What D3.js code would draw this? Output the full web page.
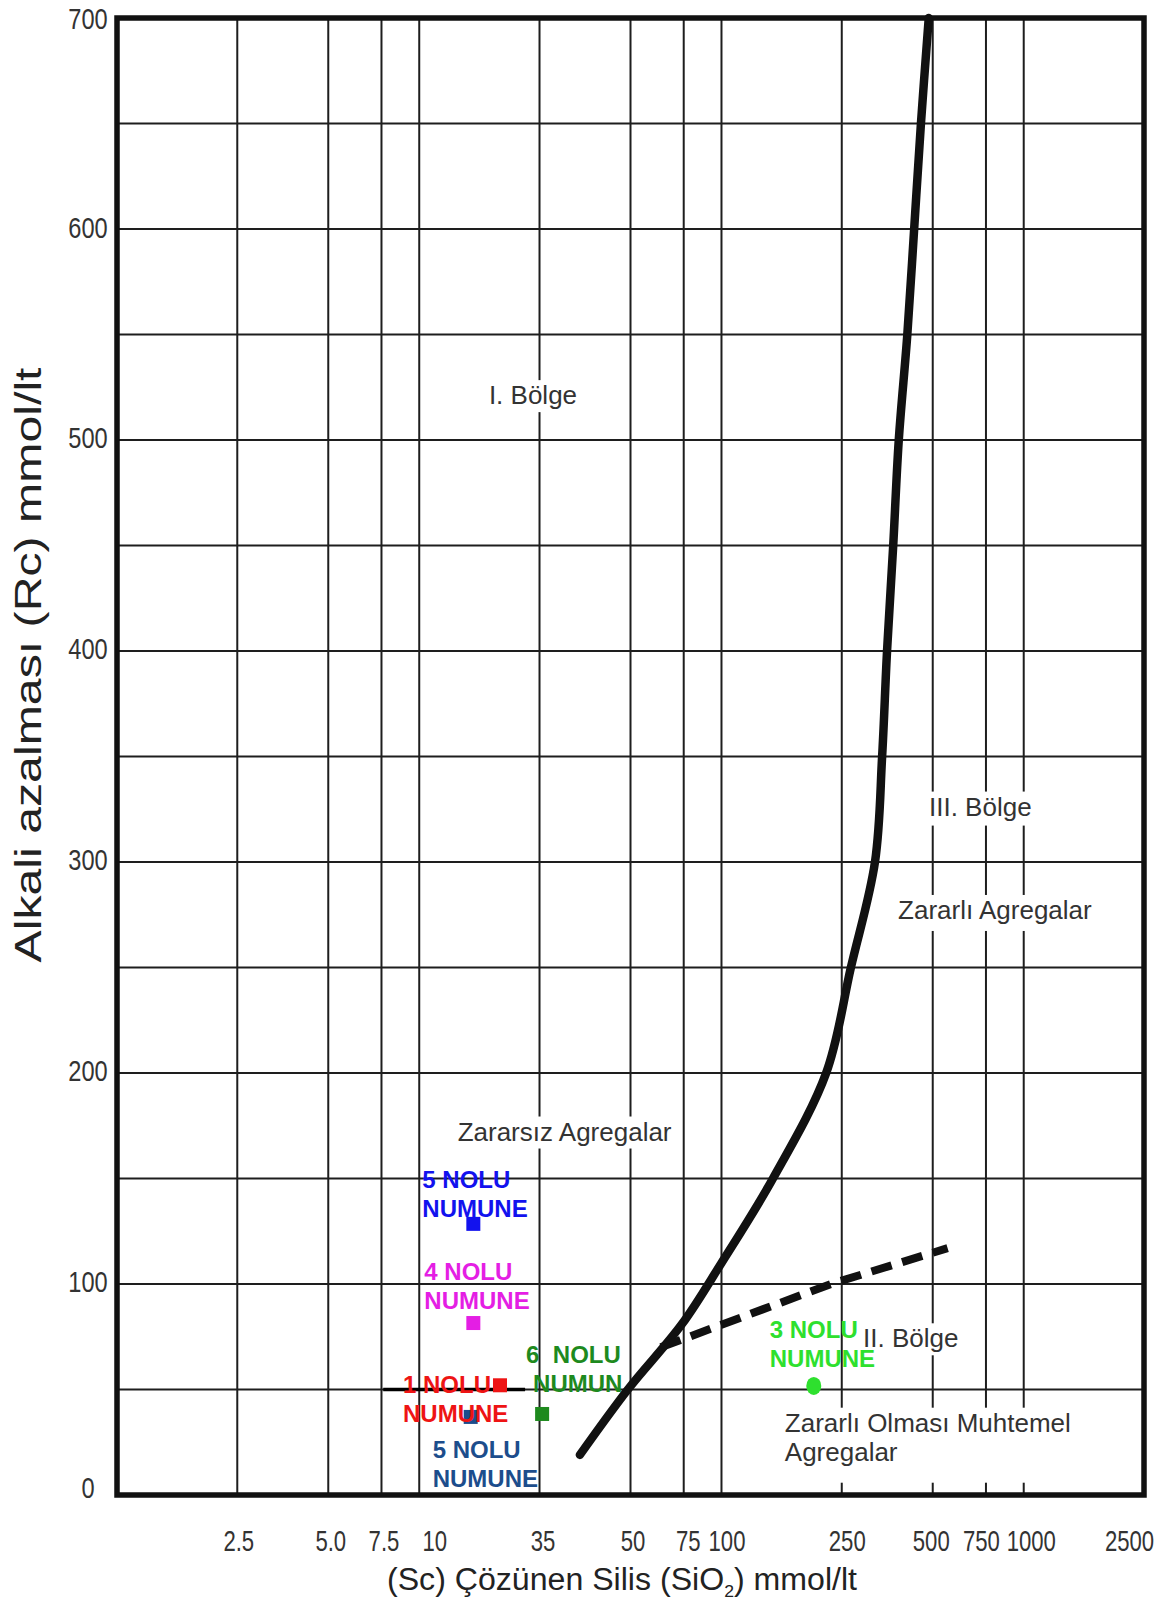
<!DOCTYPE html>
<html>
<head>
<meta charset="utf-8">
<script src="https://cdn.jsdelivr.net/npm/d3@7"></script>
<style>
  html, body { margin: 0; padding: 0; background: #fff; }
  svg { display: block; font-family: "Liberation Sans", Arial, sans-serif; }
</style>
</head>
<body>
<div id="chart"></div>
<script>
// axis ticks (the "35" label sits on the 25 line in the original drawing)
const xTickValues = [2.5, 5, 7.5, 10, 25, 50, 75, 100, 250, 500, 750, 1000, 2500];
const xTickLabels = ['2.5', '5.0', '7.5', '10', '35', '50', '75', '100', '250', '500', '750', '1000', '2500'];
const xGridValues = [2.5, 5, 7.5, 10, 25, 50, 75, 100, 250, 500, 750, 1000];
const yTickValues = [0, 100, 200, 300, 400, 500, 600, 700];
const yGridValues = [50, 100, 150, 200, 250, 300, 350, 400, 450, 500, 550, 600, 650];
// label nudges as printed (px)
const xTickLabelDx = [1, 2, 2, 15, 3, 2, 4, 5, 5, -2, -5, 7, -15];
const yTickLabelDy = [-7, -2, -2, -2, -2, -2, -1, 1];

// boundary curve (solid) and the dashed limit
const curveSc = [34, 49, 74, 100, 148, 222, 268, 322, 340, 353, 370, 386, 412, 434, 457, 485];
const curveRc = [19, 50, 81, 110, 150, 200, 250, 300, 350, 400, 450, 500, 550, 600, 650, 700];
const dashSc = [63, 230, 560];
const dashRc = [70, 100, 117];

// samples
const sampleLine1 = ['5 NOLU', '4 NOLU', '1 NOLU', '5 NOLU', '6  NOLU', '3 NOLU'];
const sampleLine2 = ['NUMUNE', 'NUMUNE', 'NUMUNE', 'NUMUNE', 'NUMUN', 'NUMUNE'];
const sampleSc = [15.1, 15.1, 18.5, 14.8, 25.5, 202];
const sampleRc = [128.5, 81.5, 52, 37, 38.4, 51.7];
const sampleColor = ['#1212ee', '#e41ee4', '#ee1414', '#1c4d8c', '#1e8a1e', '#2ee02e'];
const sampleShape = ['square', 'square', 'square', 'square', 'square', 'circle'];
// label offsets from the marker (px)
const sampleLabelDx = [-51, -49, -97, -38, -16, -44];
const sampleLabelDy = [-36, -43, 8, 41, -51, -48];

// region texts (position = first line baseline)
const regionText = [['I. Bölge'], ['Zararsız Agregalar'], ['III. Bölge'], ['Zararlı Agregalar'], ['II. Bölge'], ['Zararlı Olması Muhtemel', 'Agregalar']];
const regionSc = [17, 13.4, 486, 384, 294, 162];
const regionRc = [517, 168, 322, 273, 70, 30];
const regionPad = [[5, 5, 2], [5, 5, 2], [5, 5, 4], [5, 5, 6], [16, 5, 2], [6, 6, 16]]; // left, right, bottom

// sample-1 reference segment on the 50 line
const refSegSc = [7.6, 22.4];
const refSegRc = 50;

const W = 1170, H = 1604;
const margin = { top: 18, right: 26, bottom: 109, left: 117 };
const width = W - margin.left - margin.right;
const height = H - margin.top - margin.bottom;

const root = d3.select('#chart').append('svg')
  .attr('width', W)
  .attr('height', H);
root.append('rect').attr('width', W).attr('height', H).attr('fill', '#fff');

const svg = root.append('g')
  .attr('transform', `translate(${margin.left},${margin.top})`);

const x = d3.scaleLog().domain([1, 2500]).range([0, width]);
const y = d3.scaleLinear().domain([0, 700]).range([height, 0]);

// grid
svg.append('g').selectAll('line')
  .data(xGridValues).enter().append('line')
  .attr('x1', d => x(d)).attr('x2', d => x(d))
  .attr('y1', 0).attr('y2', height)
  .attr('stroke', '#1e1e1e').attr('stroke-width', 2);

svg.append('g').selectAll('line')
  .data(yGridValues).enter().append('line')
  .attr('x1', 0).attr('x2', width)
  .attr('y1', d => y(d)).attr('y2', d => y(d))
  .attr('stroke', '#1e1e1e').attr('stroke-width', 2);

svg.append('line')
  .attr('x1', x(refSegSc[0])).attr('x2', x(refSegSc[1]))
  .attr('y1', y(refSegRc)).attr('y2', y(refSegRc))
  .attr('stroke', '#000').attr('stroke-width', 3.5);

// region labels with white boxes
regionText.forEach((lines, i) => {
  const g = svg.append('g');
  const t = g.append('text')
    .attr('x', x(regionSc[i]))
    .attr('y', y(regionRc[i]))
    .attr('font-size', 26)
    .attr('fill', '#333');
  lines.forEach((l, j) => {
    t.append('tspan').attr('x', x(regionSc[i])).attr('dy', j === 0 ? 0 : 29).text(l);
  });
  const b = t.node().getBBox();
  const p = regionPad[i];
  g.insert('rect', 'text')
    .attr('x', b.x - p[0]).attr('y', b.y)
    .attr('width', b.width + p[0] + p[1])
    .attr('height', b.height + p[2])
    .attr('fill', '#fff');
});

// x axis (labels squeezed horizontally like the print)
const kx = 0.75;
const xAxis = svg.append('g')
  .attr('transform', `translate(0,${height})`)
  .call(d3.axisBottom(x)
    .tickValues(xTickValues)
    .tickFormat((d, i) => xTickLabels[i])
    .tickSize(0)
    .tickPadding(35));
xAxis.select('.domain').remove();
xAxis.selectAll('text')
  .attr('x', (d, i) => xTickLabelDx[i] / kx)
  .attr('transform', `scale(${kx},1)`)
  .attr('font-size', 29.5)
  .attr('font-family', '"Liberation Sans", Arial, sans-serif')
  .attr('fill', '#333');

// y axis
const ky = 0.8;
const yAxis = svg.append('g')
  .call(d3.axisLeft(y)
    .tickValues(yTickValues)
    .tickSize(0));
yAxis.select('.domain').remove();
yAxis.selectAll('text')
  .attr('x', -29 / ky)
  .attr('y', (d, i) => yTickLabelDy[i])
  .attr('transform', `scale(${ky},1)`)
  .attr('text-anchor', 'middle')
  .attr('font-size', 29.5)
  .attr('font-family', '"Liberation Sans", Arial, sans-serif')
  .attr('fill', '#333');

// curves
const solid = curveSc.map((d, i) => [d, curveRc[i]]);
svg.append('path')
  .datum(solid)
  .attr('fill', 'none')
  .attr('stroke', '#111')
  .attr('stroke-width', 8.5)
  .attr('stroke-linecap', 'round')
  .attr('d', d3.line().x(d => x(d[0])).y(d => y(d[1])).curve(d3.curveCatmullRom.alpha(0.5)));

const dashed = dashSc.map((d, i) => [d, dashRc[i]]);
svg.append('path')
  .datum(dashed)
  .attr('fill', 'none')
  .attr('stroke', '#111')
  .attr('stroke-width', 8)
  .attr('stroke-dasharray', '21,11')
  .attr('d', d3.line().x(d => x(d[0])).y(d => y(d[1])));

// sample markers
const samples = sampleSc.map((d, i) => ({
  sc: d, rc: sampleRc[i], color: sampleColor[i], shape: sampleShape[i],
  l1: sampleLine1[i], l2: sampleLine2[i], dx: sampleLabelDx[i], dy: sampleLabelDy[i]
}));

svg.selectAll('.sq')
  .data(samples.filter(d => d.shape === 'square'))
  .enter().append('rect')
  .attr('class', 'sq')
  .attr('x', d => x(d.sc) - 7)
  .attr('y', d => y(d.rc) - 7)
  .attr('width', 14)
  .attr('height', 14)
  .attr('fill', d => d.color);

svg.selectAll('.ci')
  .data(samples.filter(d => d.shape === 'circle'))
  .enter().append('ellipse')
  .attr('class', 'ci')
  .attr('cx', d => x(d.sc))
  .attr('cy', d => y(d.rc))
  .attr('rx', 7.5)
  .attr('ry', 9)
  .attr('fill', d => d.color);

// sample labels
const sl = svg.selectAll('.slab')
  .data(samples)
  .enter().append('text')
  .attr('class', 'slab')
  .attr('font-size', 24)
  .attr('font-weight', 'bold')
  .attr('fill', d => d.color)
  .style('white-space', 'pre');
sl.append('tspan')
  .attr('x', d => x(d.sc) + d.dx)
  .attr('y', d => y(d.rc) + d.dy)
  .text(d => d.l1);
sl.append('tspan')
  .attr('x', d => x(d.sc) + d.dx + (d.l2 === 'NUMUN' ? 7 : 0))
  .attr('y', d => y(d.rc) + d.dy + 29)
  .text(d => d.l2);

// frame
svg.append('rect')
  .attr('x', 0).attr('y', 0)
  .attr('width', width).attr('height', height)
  .attr('fill', 'none')
  .attr('stroke', '#111')
  .attr('stroke-width', 5.5);

// axis titles
const xt = root.append('text')
  .attr('x', 387)
  .attr('y', 1590)
  .attr('font-size', 31)
  .attr('fill', '#222')
  .attr('textLength', 470)
  .attr('lengthAdjust', 'spacingAndGlyphs');
xt.append('tspan').text('(Sc) Çözünen Silis (SiO');
xt.append('tspan').attr('font-size', 17).attr('dy', 7).text('2');
xt.append('tspan').attr('dy', -7).text(') mmol/lt');

root.append('text')
  .attr('transform', 'translate(41,665) rotate(-90)')
  .attr('text-anchor', 'middle')
  .attr('font-size', 36)
  .attr('fill', '#222')
  .attr('textLength', 595)
  .attr('lengthAdjust', 'spacingAndGlyphs')
  .text('Alkali azalması (Rc) mmol/lt');
</script>
</body>
</html>
